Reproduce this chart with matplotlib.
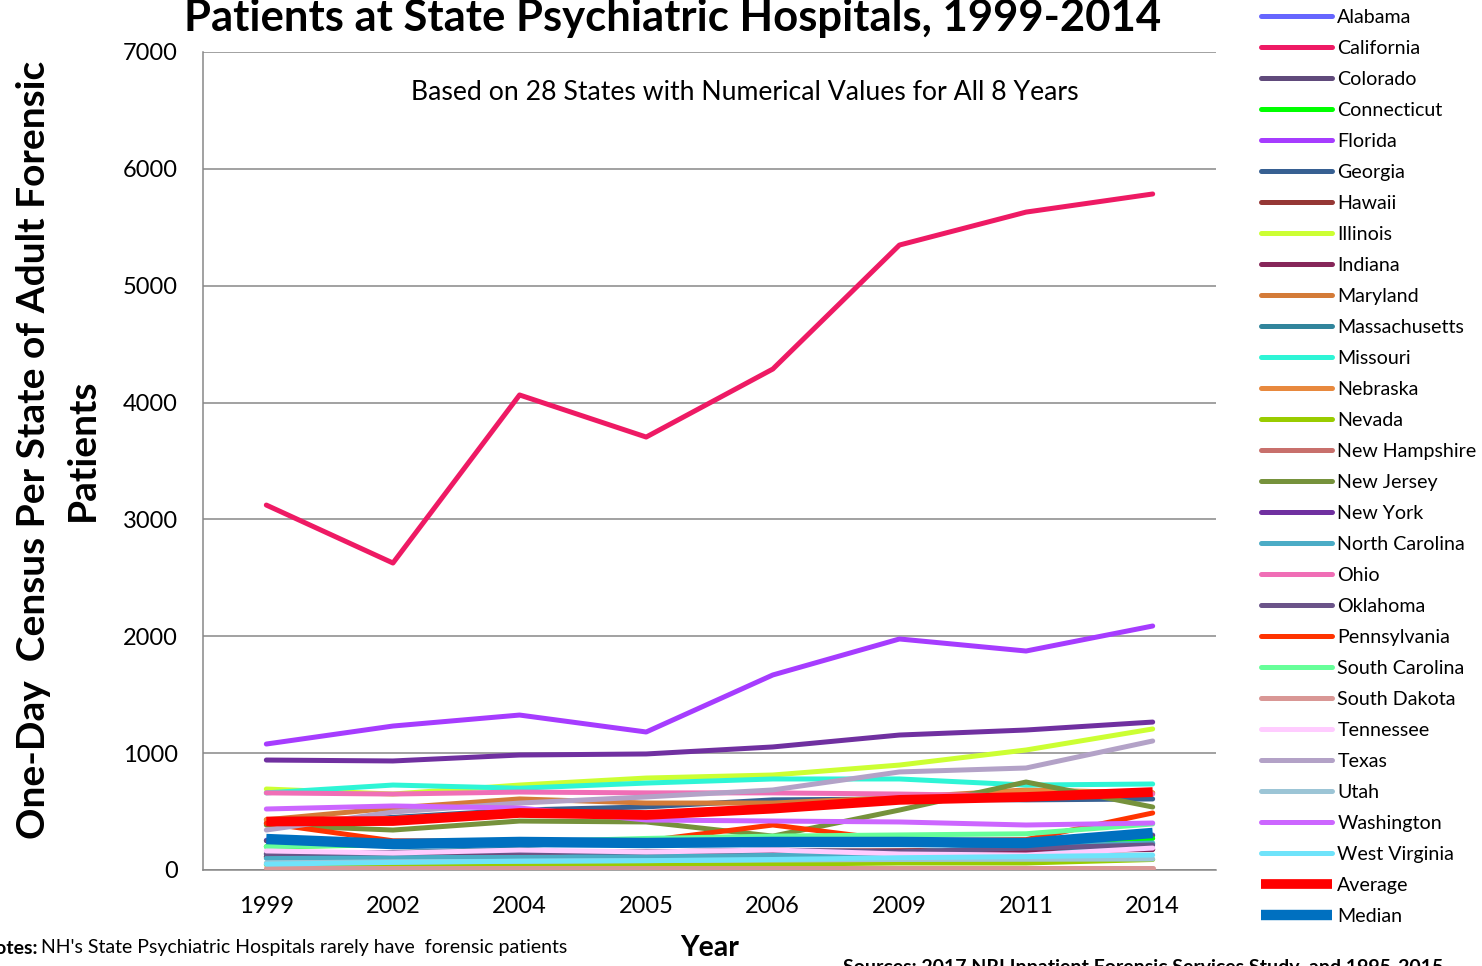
import numpy as np
import matplotlib.pyplot as plt

plt.rcParams["font.family"] = ["Lato", "DejaVu Sans"]

years = ["1999", "2002", "2004", "2005", "2006", "2009", "2011", "2014"]

states = [
    "Alabama", "California", "Colorado", "Connecticut", "Florida", "Georgia",
    "Hawaii", "Illinois", "Indiana", "Maryland", "Massachusetts", "Missouri",
    "Nebraska", "Nevada", "New Hampshire", "New Jersey", "New York",
    "North Carolina", "Ohio", "Oklahoma", "Pennsylvania", "South Carolina",
    "South Dakota", "Tennessee", "Texas", "Utah", "Washington", "West Virginia",
]

alabama = [255, 225, 245, 235, 240, 245, 235, 300]
california = [3123, 2627, 4065, 3705, 4287, 5348, 5630, 5785]
colorado = [250, 215, 235, 225, 230, 235, 225, 295]
connecticut = [200, 215, 230, 235, 240, 245, 240, 270]
florida = [1078, 1232, 1326, 1181, 1669, 1977, 1874, 2088]
georgia = [400, 450, 513, 540, 600, 608, 600, 608]
hawaii = [111, 125, 140, 150, 160, 165, 170, 178]
illinois = [693, 650, 727, 787, 813, 898, 1027, 1207]
indiana = [115, 130, 150, 155, 160, 160, 165, 175]
maryland = [430, 530, 608, 573, 573, 620, 685, 660]
massachusetts = [135, 150, 180, 111, 110, 110, 120, 225]
missouri = [660, 727, 700, 744, 779, 779, 727, 736]
nebraska = [430, 440, 500, 470, 520, 600, 680, 660]
nevada = [45, 45, 45, 45, 50, 60, 60, 90]
new_hampshire = [0, 0, 0, 0, 0, 0, 0, 0]
new_jersey = [385, 342, 419, 411, 290, 513, 753, 539]
new_york = [941, 933, 984, 993, 1053, 1155, 1198, 1266]
north_carolina = [100, 105, 110, 115, 125, 150, 200, 231]
ohio = [660, 650, 667, 660, 660, 650, 633, 650]
oklahoma = [140, 150, 155, 154, 171, 154, 188, 214]
pennsylvania = [400, 250, 245, 250, 385, 250, 260, 488]
south_carolina = [200, 220, 240, 270, 290, 300, 310, 394]
south_dakota = [18, 18, 18, 18, 18, 18, 18, 18]
tennessee = [163, 145, 171, 154, 171, 137, 128, 188]
texas = [342, 496, 573, 625, 685, 839, 873, 1104]
utah = [60, 70, 75, 80, 85, 90, 92, 94]
washington = [522, 548, 530, 428, 419, 411, 385, 402]
west_virginia = [50, 65, 75, 80, 90, 105, 115, 128]
average = [415, 419, 488, 471, 525, 600, 625, 667]
median = [265, 222, 240, 231, 240, 240, 231, 317]

series = [alabama, california, colorado, connecticut, florida, georgia,
          hawaii, illinois, indiana, maryland, massachusetts, missouri,
          nebraska, nevada, new_hampshire, new_jersey, new_york,
          north_carolina, ohio, oklahoma, pennsylvania, south_carolina,
          south_dakota, tennessee, texas, utah, washington, west_virginia]

colors = [
    "#6666FF", "#EE1A64", "#604A7B", "#00FF00", "#A63CFF", "#376092",
    "#953735", "#CCFF33", "#862659", "#D47B38", "#31859C", "#2EF5D6",
    "#E8893E", "#99CC00", "#C8706C", "#76923C", "#7030A0", "#4BACC6",
    "#F06EB6", "#6B5489", "#FF3300", "#66FF99", "#D99795", "#FFCCFF",
    "#B3A2C7", "#9CC5D6", "#CC66FF", "#6FE3FA",
]

fig = plt.figure(figsize=(14.82, 9.66), dpi=100)
ax = fig.add_axes([203 / 1482, 96 / 966, 1013 / 1482, 818 / 966])

x = np.arange(len(years))
handles = []
for name, vals, c in zip(states, series, colors):
    (ln,) = ax.plot(x, vals, color=c, lw=3.6, solid_capstyle="round",
                    solid_joinstyle="round", label=name, zorder=3)
    handles.append(ln)
(ln,) = ax.plot(x, average, color="#FF0000", lw=7, solid_capstyle="butt",
                solid_joinstyle="round", label="Average", zorder=4)
handles.append(ln)
(ln,) = ax.plot(x, median, color="#0070C0", lw=7.5, solid_capstyle="butt",
                solid_joinstyle="round", label="Median", zorder=5)
handles.append(ln)

ax.set_xlim(-0.5, 7.5)
ax.set_ylim(0, 7000)
ax.set_yticks(np.arange(0, 7001, 1000))
ax.set_xticks(x)
ax.set_xticklabels(years)
ax.tick_params(length=0, labelsize=17)
ax.tick_params(axis="y", pad=18)
ax.tick_params(axis="x", pad=19)
ax.grid(axis="y", color="#878787", lw=1.1, zorder=1)
for s in ["top", "right"]:
    ax.spines[s].set_visible(False)
for s in ["left", "bottom"]:
    ax.spines[s].set_color("#878787")
    ax.spines[s].set_linewidth(1.1)

fig.text(673 / 1482, 1 - 31 / 966, "Patients at State Psychiatric Hospitals, 1999-2014",
         ha="center", va="baseline", fontsize=31.4, fontweight="bold")
fig.text(745 / 1482, 1 - 93 / 966,
         "Based on 28 States with Numerical Values for All 8 Years",
         ha="center", va="center", fontsize=19.2)
fig.text(58 / 1482, 1 - 450 / 966,
         "One-Day  Census Per State of Adult Forensic\nPatients",
         ha="center", va="center", rotation=90, fontsize=28,
         fontweight="bold", linespacing=1.45, multialignment="center")
fig.text(710 / 1482, 1 - 948 / 966, "Year", ha="center", va="center",
         fontsize=20.5, fontweight="bold")
fig.text(38 / 1482, 1 - 948 / 966, "Notes:", ha="right", va="center",
         fontsize=14, fontweight="bold")
fig.text(41 / 1482, 1 - 948 / 966,
         "NH's State Psychiatric Hospitals rarely have  forensic patients",
         ha="left", va="center", fontsize=14)
fig.text(843 / 1482, 1 - 968 / 966,
         "Sources: 2017 NRI Inpatient Forensic Services Study, and 1995-2015",
         ha="left", va="center", fontsize=14, fontweight="bold")

fig.legend(handles=handles, loc="upper left",
           bbox_to_anchor=(1261 / 1482, 1 - 9 / 966), frameon=False,
           fontsize=14.1, handlelength=3.65, handletextpad=0.25,
           labelspacing=0.715, borderaxespad=0, borderpad=0)

fig.savefig("out.png", dpi=100)
